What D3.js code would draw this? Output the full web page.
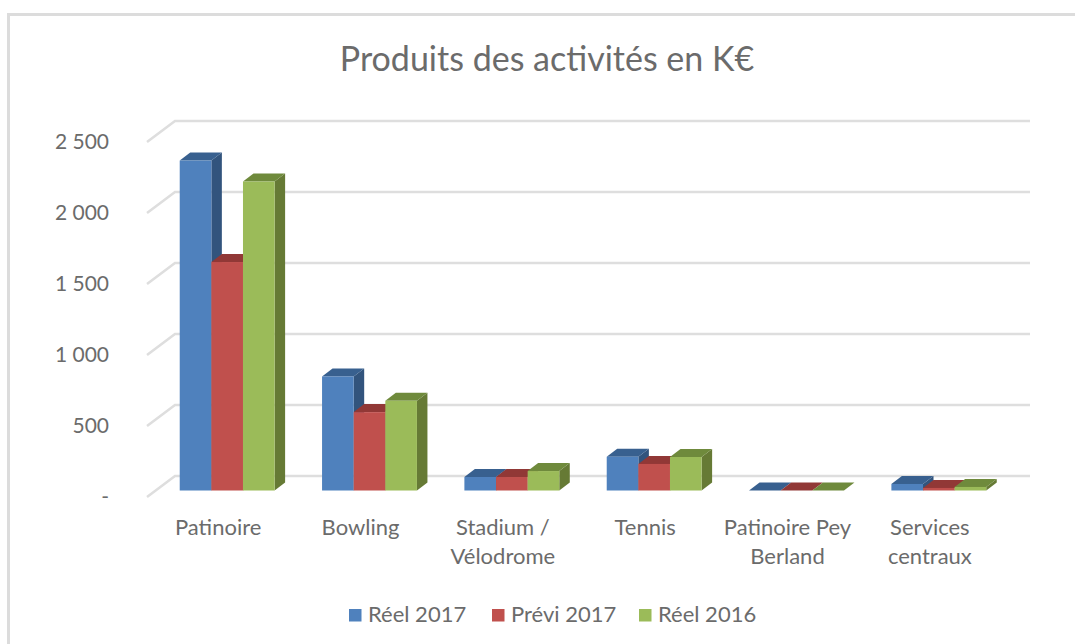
<!DOCTYPE html>
<html>
<head>
<meta charset="utf-8">
<script src="https://cdn.jsdelivr.net/npm/d3@7"></script>
<style>
    html, body { margin: 0; padding: 0; background: #fff; overflow: hidden; }
    text { font-family: Lato, "Liberation Sans", sans-serif; fill: #6b6b6b; }
</style>
</head>
<body>
<svg id="chart" width="1075" height="644"></svg>
<script>
const categories = ['Patinoire', 'Bowling', 'Stadium / Vélodrome', 'Tennis', 'Patinoire Pey Berland', 'Services centraux'];
const categoryLines = [['Patinoire'], ['Bowling'], ['Stadium /', 'Vélodrome'], ['Tennis'], ['Patinoire Pey', 'Berland'], ['Services', 'centraux']];
const seriesNames = ['Réel 2017', 'Prévi 2017', 'Réel 2016'];
const reel2017 = [2324, 803, 95, 238, 0, 46];
const previ2017 = [1609, 552, 95, 187, 0, 18];
const reel2016 = [2176, 632, 137, 236, 0, 25];
const yTicks = [0, 500, 1000, 1500, 2000, 2500];
const seriesValues = [reel2017, previ2017, reel2016];

const colors = ['#4f81bd', '#c0504d', '#9bbb59'];
const sideColors = ['#32547d', '#8f3a38', '#667a35'];
const topColors = ['#38608f', '#913836', '#6f8a3c'];

const svg = d3.select('#chart');

// chart frame, runs off the right and bottom of the screenshot
svg.append('path')
    .attr('d', 'M8.5,644V14.5H1075')
    .attr('fill', 'none')
    .attr('stroke', '#dcdcdc')
    .attr('stroke-width', 3);

svg.append('text')
    .attr('x', 547)
    .attr('y', 71)
    .attr('text-anchor', 'middle')
    .style('font-size', '34px')
    .text('Produits des activités en K€');

const x = d3.scaleBand().domain(categories).range([147, 1001]).paddingInner(1 / 3).paddingOuter(1 / 6);
const xInner = d3.scaleBand().domain(d3.range(seriesNames.length)).range([0, x.bandwidth()]);
const y = d3.scaleLinear().domain([0, 2500]).range([490.5, 135.5]);

// 3d offsets: bars sit partway into the floor, walls at the full depth
const barShift = 9, depthX = 10.5, depthY = 8;
const floorX = 28, floorFront = 6.5, floorBack = 14.5;

const grid = svg.append('g')
    .attr('fill', 'none')
    .attr('stroke', '#dedede')
    .attr('stroke-width', 2.5);

grid.selectAll('path')
    .data(yTicks)
    .join('path')
    .attr('d', d => {
        const p = d3.path();
        p.moveTo(147, y(d) + floorFront);
        p.lineTo(147 + floorX, y(d) - floorBack);
        p.lineTo(1030, y(d) - floorBack);
        return p.toString();
    });

const yAxis = d3.axisLeft(y)
    .tickValues(yTicks)
    .tickSize(0)
    .tickPadding(0)
    .tickFormat(d => d === 0 ? '-' : d3.format(',')(d).replace(',', ' '));

const yAxisG = svg.append('g')
    .attr('transform', `translate(109,${floorFront})`)
    .call(yAxis);
yAxisG.select('.domain').remove();
yAxisG.selectAll('text')
    .style('font-size', '21px')
    .style('font-family', null)
    .attr('fill', null);

const bars = svg.append('g');

categories.forEach((cat, i) => {
    const group = bars.append('g');
    seriesValues.forEach((values, s) => {
        const x0 = x(cat) + barShift + xInner(s);
        const x1 = x0 + xInner.bandwidth();
        const yTop = y(values[i]);
        const yBase = y(0);

        group.append('polygon')
            .attr('fill', sideColors[s])
            .attr('points', [[x1, yTop], [x1 + depthX, yTop - depthY], [x1 + depthX, yBase - depthY], [x1, yBase]].join(' '));

        group.append('polygon')
            .attr('fill', topColors[s])
            .attr('points', [[x0, yTop], [x0 + depthX, yTop - depthY], [x1 + depthX, yTop - depthY], [x1, yTop]].join(' '));

        group.append('rect')
            .attr('x', x0)
            .attr('y', yTop)
            .attr('width', xInner.bandwidth())
            .attr('height', yBase - yTop)
            .attr('fill', colors[s]);
    });
});

const xAxis = d3.axisBottom(x).tickSize(0).tickFormat('');
const xAxisG = svg.append('g')
    .attr('transform', 'translate(0,535)')
    .call(xAxis);
xAxisG.select('.domain').remove();
xAxisG.selectAll('.tick').each(function(d, i) {
    const label = d3.select(this).select('text')
        .attr('y', 0)
        .attr('dy', null)
        .style('font-size', '22px');
    categoryLines[i].forEach((line, j) => {
        label.append('tspan')
            .attr('x', 0)
            .attr('y', j * 28.5)
            .text(line);
    });
});

const legendX = [349, 492, 639];
const legend = svg.append('g')
    .selectAll('g')
    .data(seriesNames)
    .join('g')
    .attr('transform', (d, i) => `translate(${legendX[i]},609)`);

legend.append('rect')
    .attr('width', 12.5)
    .attr('height', 12.5)
    .attr('fill', (d, i) => colors[i]);

legend.append('text')
    .attr('x', 19)
    .attr('y', 13)
    .style('font-size', '22px')
    .text(d => d);
</script>
</body>
</html>
